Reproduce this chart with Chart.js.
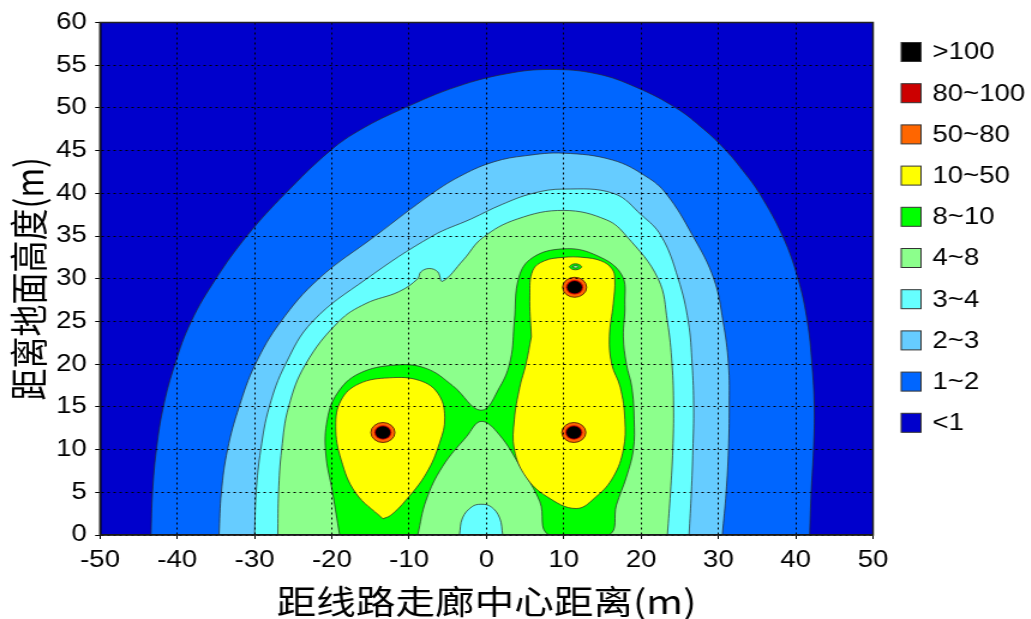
<!DOCTYPE html>
<html>
<head>
<meta charset="utf-8">
<script src="https://cdn.jsdelivr.net/npm/chart.js@4.4.1/dist/chart.umd.min.js"></script>
<style>
  html, body { margin: 0; padding: 0; background: #fff; overflow: hidden; }
  /* the source figure is stretched sideways, so the whole chart is too */
  #wrap { width: 859px; height: 619px; transform: scaleX(1.2); transform-origin: 0 0; }
</style>
</head>
<body>
<div id="wrap"><canvas id="fieldChart" width="859" height="619"></canvas></div>
<script>
const levelLabels = [">100", "80~100", "50~80", "10~50", "8~10", "4~8", "3~4", "2~3", "1~2", "<1"];
const levelColors = ["#000000", "#CC0000", "#FF6600", "#FFFF00", "#00FF00", "#8CFF8C", "#66FFFF", "#66CCFF", "#0066FF", "#0000CC"];
const xTickValues = [-50, -40, -30, -20, -10, 0, 10, 20, 30, 40, 50];
const yTickValues = [0, 5, 10, 15, 20, 25, 30, 35, 40, 45, 50, 55, 60];

// contour lines: [distance (m), height (m)]
const edge1 = [[-43.4,0],[-43.2,5],[-42.7,10],[-41.8,15],[-40.3,20],[-38.2,25],[-35,30],[-31,35],[-26,40],[-20.2,45],[-16.2,47.5],[-10.6,50],[-3.8,52.5],[2.6,54],[8.2,54.5],[14.2,54],[19.4,52.4],[24.5,50],[28.1,47.5],[31,45],[33.3,42.5],[35.3,40],[38.3,35],[40.3,30],[41.5,25],[42.1,20],[42.4,15],[42.3,10],[42,5],[41.8,0]];
const edge2 = [[-34.6,0],[-34.3,5],[-33.5,10],[-32,15],[-29.9,20],[-26.6,25],[-21.7,30],[-14.4,35],[-7,40],[-3,42.2],[1,43.7],[5,44.4],[10,44.7],[16.3,43.9],[20.6,42],[23.2,40],[26.7,35],[29.4,30],[30.6,25],[31.3,20],[31.4,15],[31.3,10],[31,5],[30.5,0]];
const edge3 = [[-30,0],[-29.8,5],[-29.2,10],[-28.1,15],[-26,20],[-22.5,25],[-15.5,30],[-7,35],[-2,37],[2,38.7],[6,40],[10,40.5],[16.4,40],[20,37.5],[22.6,35],[24.8,30],[26.1,25],[26.6,20],[26.8,15],[26.7,10],[26.5,5],[26.2,0]];
const edge4 = [[-27,0],[-26.9,5],[-26.5,10],[-25.6,15],[-23.4,20],[-19.1,25],[-15.6,27.1],[-11.3,28.5],[-8.9,30],[-8.5,30.8],[-7.4,31.2],[-6.3,30.8],[-5.7,29.7],[-3,32.2],[-0.5,34.8],[4,37],[10,38],[15.5,36.9],[18.1,35],[22.2,30],[23.4,25],[24,20],[24.2,15],[24.1,10],[23.8,5],[23.4,0]];
const dome3 = [[-3.5,0],[-3.1,2],[-1.9,3.3],[-0.7,3.6],[0.6,3.3],[1.7,2],[2.1,0]];
const edge8 = [[-19,0],[-19.9,4.9],[-20.8,9.6],[-20.6,13.5],[-19.3,16.6],[-16.5,18.9],[-11.7,19.9],[-7.8,19.5],[-4.4,17.5],[-0.7,14.6],[1.7,17.3],[3.1,20.5],[3.6,25],[4.2,30.2],[6,32.5],[9.9,33.5],[13.8,32.9],[17.4,30.6],[17.9,27],[17.7,23.2],[18.1,20],[18.8,17.3],[19.1,13.5],[19,10],[18.1,6.8],[16.8,3.5],[15.8,0],[8.1,0],[6.9,3.9],[4.5,7.8],[1.6,11.8],[-0.7,13.3],[-2.6,11.5],[-5.7,8],[-7.8,4.1],[-8.9,0]];
const edge10Left = [[-13.4,1.9],[-16.9,4.9],[-18.8,8.8],[-19.5,12.7],[-18.8,15.8],[-16.5,17.7],[-12.6,18.4],[-8.7,18.1],[-6.3,16.6],[-5.4,13.8],[-6.1,10.7],[-7.8,7.2],[-10.4,4.1],[-12.4,2.3],[-13.4,1.9]];
const edge10Right = [[5.8,23.2],[5.1,20],[4.3,17.3],[3.6,13.5],[3.6,10],[5.1,6.8],[7.8,4.5],[11.6,3.1],[14.2,4.5],[16.4,6.8],[17.7,10],[17.9,13.5],[17.3,17.3],[16.2,20],[15.9,23.2],[16.4,27.1],[16.6,30],[16.2,31.2],[14.8,32.1],[12.5,32.5],[9.9,32.5],[7.5,32.1],[6,31],[5.6,28],[5.8,23.2]];
const pocket8 = [[10.7,31.4],[11,31.65],[11.5,31.75],[12,31.65],[12.3,31.4],[12,31.15],[11.5,31.05],[11,31.15],[10.7,31.4]];
const pocket4 = [[11.1,31.4],[11.5,31.55],[11.9,31.4],[11.5,31.25],[11.1,31.4]];
const conductorX = [-13.4, 11.3, 11.4];
const conductorY = [12, 12, 29];

// bottom layer first, each entry: contour, colour index
const layers = [
  [edge1, 8], [edge2, 7], [edge3, 6], [edge4, 5], [dome3, 6],
  [edge8, 4], [edge10Left, 3], [edge10Right, 3], [pocket8, 4], [pocket4, 5]
];

function toPoints(arr) {
  return arr.map(p => ({ x: p[0], y: p[1] }));
}

const datasets = layers.map((l, i) => ({
  label: "c" + i,
  data: toPoints(l[0]),
  showLine: true,
  fill: "shape",
  backgroundColor: levelColors[l[1]],
  borderColor: "rgba(40,40,40,0.7)",
  borderWidth: 1,
  pointRadius: 0,
  tension: 0.4,
  order: 100 - i,
}));

// conductors: orange ring, red ring, black core
const conductorPts = conductorX.map((x, i) => ({ x: x, y: conductorY[i] }));
[[2, 10, 0.9], [1, 7.2, 0], [0, 6.2, 0]].forEach((r, k) => {
  datasets.push({
    label: "w" + k,
    data: conductorPts,
    showLine: false,
    pointRadius: r[1],
    pointBackgroundColor: levelColors[r[0]],
    pointBorderColor: "#5a2000",
    pointBorderWidth: r[2],
    order: 10 - k,
  });
});

const tickFont = { family: "'Liberation Sans', Arial, sans-serif", size: 23 };

const plotBack = {
  id: "plotBack",
  beforeDatasetsDraw(chart) {
    const a = chart.chartArea;
    const ctx = chart.ctx;
    ctx.save();
    ctx.fillStyle = levelColors[9];
    ctx.fillRect(a.left, a.top, a.right - a.left, a.bottom - a.top);
    ctx.restore();
  },
  afterDraw(chart) {
    const a = chart.chartArea;
    const ctx = chart.ctx;
    ctx.save();
    ctx.strokeStyle = "#222";
    ctx.lineWidth = 1.5;
    ctx.strokeRect(a.left, a.top, a.right - a.left, a.bottom - a.top);
    // legend
    ctx.font = "23px 'Liberation Sans', Arial, sans-serif";
    ctx.textBaseline = "middle";
    levelLabels.forEach((lab, i) => {
      const y = 52 + i * 41.2;
      const x = a.right + 23.5;
      ctx.fillStyle = levelColors[i];
      ctx.fillRect(x, y - 9.5, 16.5, 19);
      ctx.strokeStyle = "#333";
      ctx.lineWidth = 1;
      ctx.strokeRect(x, y - 9.5, 16.5, 19);
      ctx.fillStyle = "#000";
      ctx.fillText(lab, x + 26, y + 1);
    });
    ctx.restore();
  }
};

const config = {
  type: "scatter",
  data: { datasets: datasets },
  options: {
    responsive: false,
    animation: false,
    events: [],
    layout: { padding: { top: 22.5, right: 131.5, left: 0, bottom: 0 } },
    plugins: { legend: { display: false }, tooltip: { enabled: false } },
    scales: {
      x: {
        type: "linear", min: -50, max: 50,
        afterBuildTicks: s => { s.ticks = xTickValues.map(v => ({ value: v })); },
        afterFit: s => { s.height = 84; },
        ticks: { font: tickFont, color: "#000", padding: 8, autoSkip: false, maxRotation: 0 },
        grid: { color: "#000", lineWidth: 1, z: 1, tickLength: 4, tickBorderDash: [], tickColor: "#000" },
        border: { dash: [2, 3], color: "#000", width: 1.5, z: 2 },
        title: {
          display: true, text: "距线路走廊中心距离(m)", color: "#000",
          font: { family: "'Noto Sans CJK SC', sans-serif", size: 33, lineHeight: 1 },
          padding: { top: 0, bottom: 1 }
        }
      },
      y: {
        type: "linear", min: 0, max: 60,
        afterBuildTicks: s => { s.ticks = yTickValues.map(v => ({ value: v })); },
        afterFit: s => { s.width = 83.3; },
        ticks: { font: tickFont, color: "#000", padding: 7, autoSkip: false },
        grid: { color: "#000", lineWidth: 1, z: 1, tickLength: 4, tickBorderDash: [], tickColor: "#000" },
        border: { dash: [2, 3], color: "#000", width: 1.5, z: 2 },
        title: {
          display: true, text: "距离地面高度(m)", color: "#000",
          font: { family: "'Noto Sans CJK SC', sans-serif", size: 32, lineHeight: 1 },
          padding: { top: 8, bottom: 0 }
        }
      }
    }
  },
  plugins: [plotBack]
};

const chart = new Chart(document.getElementById("fieldChart"), config);
</script>
</body>
</html>
